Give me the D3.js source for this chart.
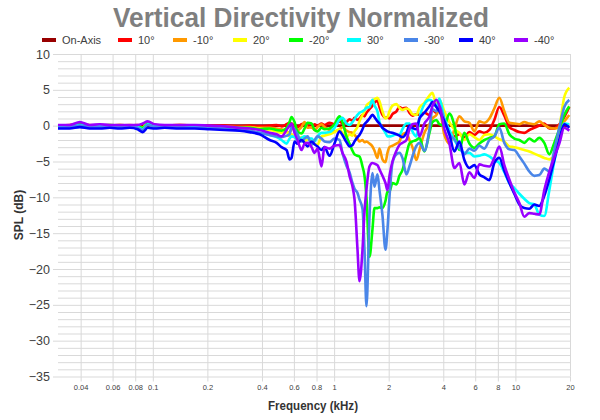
<!DOCTYPE html>
<html>
<head>
<meta charset="utf-8">
<script src="https://cdn.jsdelivr.net/npm/d3@7"></script>
<style>
  body { margin: 0; background: #fff; }
  svg { display: block; font-family: "Liberation Sans", Arial, sans-serif; }
</style>
</head>
<body>
<script>
// frequencies in kHz
const freqs = [
  0.030, 0.0348, 0.0396, 0.0449, 0.051, 0.0579, 0.0657, 0.0746,
  0.0825, 0.088, 0.0937, 0.1024, 0.1163, 0.1406, 0.1702, 0.2058, 0.2489, 0.3012,
  0.342, 0.388, 0.441, 0.482, 0.513, 0.547, 0.568, 0.582, 0.605, 0.628,
  0.661, 0.687, 0.714, 0.751, 0.780, 0.810, 0.852, 0.885, 0.943, 1.005,
  1.071, 1.112, 1.170, 1.216, 1.263, 1.296, 1.346, 1.380, 1.434, 1.471,
  1.508, 1.567, 1.627, 1.670, 1.734, 1.779, 1.848, 1.920, 1.969, 2.020,
  2.098, 2.207, 2.292, 2.381, 2.505, 2.602, 2.704, 2.844, 2.955, 3.148,
  3.356, 3.485, 3.666, 3.808, 4.058, 4.323, 4.608, 4.910, 5.230, 5.572,
  5.937, 6.326, 6.741, 7.182, 7.650, 8.153, 8.686, 9.256, 9.860, 10.51,
  11.19, 11.93, 12.71, 13.54, 14.43, 15.38, 16.38, 17.46, 18.60, 19.82
]

const onAxis = [
  0, 0, 0, 0, 0, 0, 0, 0,
  0, 0, 0, 0, 0, 0, 0, 0, 0, 0,
  0, 0, 0, 0, 0, 0, 0, 0, 0, 0,
  0, 0, 0, 0, 0, 0, 0, 0, 0, 0,
  0, 0, 0, 0, 0, 0, 0, 0, 0, 0,
  0, 0, 0, 0, 0, 0, 0, 0, 0, 0,
  0, 0, 0, 0, 0, 0, 0, 0, 0, 0,
  0, 0, 0, 0, 0, 0, 0, 0, 0, 0,
  0, 0, 0, 0, 0, 0, 0, 0, 0, 0,
  0, 0, 0, 0, 0, 0, 0, 0, 0, 0
]
const up10 = [
  0, 0.1, 0.2, 0, 0.1, 0, 0.1, 0,
  0.1, -0.2, 0.3, 0.1, 0, 0.1, 0, 0, 0, -0.1,
  0, -0.1, 0, 0.1, -0.1, 0.2, 0.4, 0.3, 0, -0.2,
  0.2, 0.3, 0, -0.2, 0.2, 0, 0.3, 0.1, 0.4, 0.2,
  0.6, 0.3, 0.5, 0.9, 0.7, 1.1, 0.8, 1.0, 1.5, 1.3,
  1.8, 2.3, 2.8, 3.2, 3.5, 2.6, 1.5, 1.1, 1.2, 1.0,
  1.6, 2.0, 2.6, 2.4, 2.5, 1.8, 1.4, 1.6, 1.5, 1.8,
  1.5, 2.2, 1.8, 2.4, 0.6, -0.8, -1.5, -1.2, -1.6, -0.9,
  -1.3, -0.8, -1.0, -0.6, 0.8, 2.6, 1.4, -0.2, -0.6, -0.9,
  -1.0, -0.6, -0.3, 0.0, 0.3, -0.4, -0.4, 0.2, 1.2, 2.6
]
const down10 = [
  0, 0, 0.2, 0.1, 0, 0.1, 0, 0.1,
  0, -0.3, 0.4, 0.1, 0, 0.1, 0, -0.1, -0.1, -0.2,
  -0.2, -0.3, -0.3, -0.4, -0.5, -0.8, -1.0, -0.5, -0.4, -0.6,
  -0.2, 0.5, -0.3, -0.2, -0.6, -0.2, 0.2, -0.2, -0.6, -0.8,
  -0.5, -0.2, -0.7, -0.9, -1.0, -1.3, -1.8, -2.2, -2.0, -2.3,
  -2.2, -2.5, -2.9, -3.5, -4.5, -3.2, -4.7, -5.1, -3.8, -3.0,
  -2.8, -2.5, -2.2, -1.2, -1.0, -2.0, -3.0, -4.8, -3.4, -1.0,
  0.2, 1.0, 1.5, 2.2, -1.3, -2.5, -0.5, 1.3, 0.6, 0.4,
  -0.8, 0.6, 0.4, 1.0, 2.4, 3.9, 2.0, 0.4, 0.3, 0.2,
  0.5, 0.3, 0.2, 0.6, 0.1, -0.3, -0.4, -0.2, 0.6, 1.5
]
const up20 = [
  0, 0, 0.2, 0, 0.1, 0, 0.1, 0,
  0, -0.3, 0.4, 0, 0, 0, -0.1, -0.1, -0.2, -0.3,
  -0.3, -0.4, -0.6, -0.8, -1.0, -0.8, -1.5, -1.2, -1.6, -2.0,
  -1.6, -2.2, -1.9, -2.2, -2.5, -2.7, -1.5, -1.4, -1.2, -0.9,
  -0.5, -1.0, -1.6, -1.2, -1.4, -0.8, -0.2, 0.6, 1.5, 2.0,
  2.8, 3.2, 3.5, 3.7, 3.9, 3.4, 2.0, 1.0, 1.2, 2.0,
  2.8, 3.0, 2.5, 2.2, 2.4, 2.2, 1.6, 1.5, 2.5, 3.2,
  4.2, 4.6, 2.9, 3.6, 2.0, 0.5, -0.5, -1.0, -2.0, -1.2,
  -1.6, -2.0, -1.3, -1.2, -1.5, -1.9, -2.2, -2.9, -3.0, -3.2,
  -3.4, -3.6, -3.9, -4.2, -4.5, -4.7, -4.2, -0.5, 4.0, 5.3
]
const down20 = [
  -0.1, 0, 0.2, 0, 0, 0.1, 0, 0,
  0, -0.3, 0.3, 0, -0.1, 0, -0.1, -0.1, -0.2, -0.3,
  -0.3, -0.5, -0.4, -0.6, -0.7, -0.3, 0.5, 1.2, 0.5, -0.8,
  -1.1, -0.4, 0.4, 0.3, -0.6, -0.8, -0.3, -0.5, -0.4, 0.2,
  1.3, 0.5, -1.5, -2.5, -3.5, -4.0, -4.2, -4.3, -5.7, -7.0,
  -10.0, -18.3, -14.5, -11.5, -11.5, -11.4, -11.5, -10.5, -9.2, -9.2,
  -8.0, -8.2, -7.0, -6.2, -4.0, -2.5, -2.2, -2.0, -1.7, -3.6,
  -1.0, 0.5, 0.8, 0.2, 0.0, 1.7, 0.0, -3.4, -1.0, -2.5,
  -3.1, -2.5, -2.0, -1.7, -1.5, 0.2, 0.3, -1.2, -1.8, -2.0,
  -2.4, -1.8, -2.2, -1.7, -2.4, -4.0, -2.4, -0.5, 1.5, 2.7
]
const up30 = [
  -0.2, -0.1, 0.1, -0.1, -0.1, 0, -0.1, -0.1,
  -0.2, -0.5, 0.2, -0.1, -0.1, -0.1, -0.2, -0.3, -0.4, -0.6,
  -0.8, -1.0, -1.3, -1.6, -2.0, -2.5, -1.8, -1.5, -1.6, -2.0,
  -1.7, -1.5, -1.7, -1.8, -2.2, -1.5, -1.0, -1.0, -0.9, -0.3,
  0.8, 1.1, 0.3, 0.1, 0.5, 0.9, 1.5, 1.8, 2.0, 2.2,
  2.5, 2.6, 3.6, 2.8, 2.0, 0.5, -0.3, -1.0, -1.5, -1.5,
  -1.4, -1.2, -1.3, -0.5, 0.3, 0.3, -0.8, -1.5, 1.0, 3.0,
  3.6, 3.4, 2.6, 3.8, 1.0, -0.6, -2.0, -3.1, -3.8, -3.8,
  -4.3, -4.2, -4.0, -4.3, -4.8, -5.2, -6.5, -8.0, -8.7, -9.5,
  -10.2, -10.8, -11.0, -12.4, -12.6, -9.0, -5.0, -2.0, 0.3, 0.2
]
const down30 = [
  -0.3, -0.2, 0, -0.2, -0.2, -0.1, -0.2, -0.2,
  -0.3, -0.6, 0.1, -0.2, -0.2, -0.2, -0.3, -0.3, -0.5, -0.6,
  -0.7, -1.0, -1.3, -1.5, -1.6, -1.4, -1.2, -0.2, -0.5, -1.2,
  -2.2, -1.8, -1.5, -2.7, -2.0, -1.5, -1.8, -2.2, -2.3, -1.8,
  -2.0, -3.8, -5.6, -6.5, -8.0, -8.8, -9.4, -10.3, -11.6, -17.3,
  -25.2, -12.7, -6.6, -8.5, -6.8, -9.0, -12.5, -17.3, -14.5, -10.0,
  -5.2, -4.0, -3.8, -4.5, -6.8, -5.7, -4.3, -2.8, -2.4, -3.5,
  -0.5, 2.3, 2.0, 2.7, 0.8, -1.2, -1.9, -3.0, -4.0, -3.2,
  -3.5, -2.8, -3.2, -2.0, -1.5, -0.3, -2.4, -3.3, -3.4, -4.3,
  -5.3, -6.4, -7.0, -6.9, -6.0, -6.4, -3.4, -0.3, 2.6, 3.6
]
const up40 = [
  -0.4, -0.4, -0.2, -0.4, -0.4, -0.3, -0.4, -0.3,
  -0.5, -0.9, -0.3, -0.4, -0.3, -0.4, -0.4, -0.5, -0.6, -0.7,
  -0.9, -1.2, -2.0, -2.4, -3.0, -3.4, -4.7, -4.5, -2.2, -2.5,
  -2.0, -2.4, -2.9, -2.2, -2.6, -2.9, -3.4, -3.0, -4.2, -2.5,
  -0.8, -1.3, -2.3, -2.9, -2.7, -2.2, -1.6, -1.3, -0.5, 0.2,
  0.5, 1.0, 1.5, 1.2, 0.6, 0.3, -0.3, -0.6, -0.8, -0.9,
  -1.0, -1.2, -1.4, -1.6, -1.0, 0.0, -0.3, -0.5, 1.0, 1.8,
  2.7, 3.3, 2.6, 2.0, 0.6, -1.2, -3.6, -2.2, -4.8, -5.9,
  -5.5, -6.8, -7.2, -7.6, -5.2, -4.5, -6.3, -8.0, -9.5, -11.0,
  -11.5, -11.6, -11.0, -11.2, -9.8, -7.5, -4.8, -2.0, 0.2, -0.3
]
const down40 = [
  0.1, 0.1, 0.5, 0.1, 0.2, 0.1, 0.1, 0.1,
  0.1, 0.3, 0.6, 0.2, 0.1, 0.1, 0.1, 0, -0.1, -0.3,
  -0.4, -0.6, -1.0, -1.2, -1.5, -0.6, 0.0, 0.3, -1.0, -2.0,
  -3.4, -2.5, -2.4, -3.0, -3.8, -3.2, -5.7, -3.0, -3.2, -2.8,
  -2.7, -3.8, -5.0, -7.0, -8.5, -10.3, -17.3, -21.7, -17.3, -12.0,
  -8.9, -5.7, -5.2, -5.3, -5.5, -6.1, -7.0, -8.0, -9.0, -7.0,
  -5.0, -3.5, -2.7, -2.4, -2.0, -0.5, 0.2, 0.3, -1.5, 0.3,
  1.3, 2.7, 3.6, 2.8, -0.5, -2.5, -5.9, -5.2, -8.2, -6.5,
  -7.3, -5.4, -5.6, -5.7, -4.5, -2.9, -5.5, -7.5, -9.3, -10.8,
  -12.7, -12.2, -12.3, -12.4, -9.0, -6.4, -4.4, -2.5, -0.3, -0.7
]

const seriesNames = ["On-Axis", "10°", "-10°", "20°", "-20°", "30°", "-30°", "40°", "-40°"]
const seriesValues = [onAxis, up10, down10, up20, down20, up30, down30, up40, down40]
const seriesColors = ["#980000", "#ff0000", "#ff9900", "#ffff00", "#00ff00", "#00ffff", "#4a86e8", "#0000ff", "#9900ff"]

const xTicks = [0.04, 0.06, 0.08, 0.1, 0.2, 0.4, 0.6, 0.8, 1, 2, 4, 6, 8, 10, 20]
const xTickLabels = ["0.04", "0.06", "0.08", "0.1", "0.2", "0.4", "0.6", "0.8", "1", "2", "4", "6", "8", "10", "20"]
const yTicks = [-35, -30, -25, -20, -15, -10, -5, 0, 5, 10]

const plotLeft = 58, plotRight = 570, plotTop = 54, plotBottom = 376.5

const svg = d3.select("body").append("svg")
  .attr("width", 600)
  .attr("height", 420)

const x = d3.scaleLog().domain([0.03, 20]).range([plotLeft, plotRight])
const y = d3.scaleLinear().domain([-35, 10]).range([plotBottom, plotTop])

// horizontal grid, every dB
svg.append("g")
  .attr("transform", `translate(${plotLeft},0)`)
  .call(d3.axisLeft(y).tickValues(d3.range(-35, 11, 1)).tickSize(-(plotRight - plotLeft)).tickFormat(""))
  .call(g => g.select(".domain").remove())
  .selectAll("line").attr("stroke", "#d9d9d9")

// vertical grid at labelled frequencies
svg.append("g")
  .attr("transform", `translate(0,${plotBottom})`)
  .call(d3.axisBottom(x).tickValues(xTicks).tickSize(-(plotBottom - plotTop)).tickFormat(""))
  .call(g => g.select(".domain").remove())
  .selectAll("line").attr("stroke", "#d9d9d9")

// y axis ticks + labels
const yAxis = svg.append("g")
  .attr("transform", `translate(${plotLeft},0)`)
  .call(d3.axisLeft(y).tickValues(yTicks).tickSize(5).tickPadding(3))
yAxis.select(".domain").remove()
yAxis.selectAll("line").attr("stroke", "#d9d9d9")
yAxis.selectAll("text")
  .style("font-size", "12.5px")
  .attr("fill", "#404040")

// x axis ticks + labels
const xAxis = svg.append("g")
  .attr("transform", `translate(0,${plotBottom})`)
  .call(d3.axisBottom(x).tickValues(xTicks).tickSize(5).tickPadding(3)
    .tickFormat((d, i) => xTickLabels[i]))
xAxis.select(".domain").remove()
xAxis.selectAll("line").attr("stroke", "#d9d9d9")
xAxis.selectAll("text")
  .style("font-size", "7.5px")
  .attr("fill", "#404040")

// curves
const line = d3.line()
  .x(d => x(d[0]))
  .y(d => y(d[1]))
  .curve(d3.curveMonotoneX)

seriesValues.forEach((vals, i) => {
  svg.append("path")
    .datum(freqs.map((f, j) => [f, vals[j]]))
    .attr("d", line)
    .attr("fill", "none")
    .attr("stroke", seriesColors[i])
    .attr("stroke-width", 2.6)
    .attr("stroke-linejoin", "round")
})

// title
svg.append("text")
  .attr("x", 301)
  .attr("y", 27)
  .attr("text-anchor", "middle")
  .attr("textLength", 376)
  .attr("lengthAdjust", "spacingAndGlyphs")
  .style("font-size", "27px")
  .style("font-weight", "bold")
  .attr("fill", "#7f7f7f")
  .text("Vertical Directivity Normalized")

// legend
const legendX = [42, 118, 173, 233, 289, 347, 404, 459, 514]
const legend = svg.selectAll(".legend")
  .data(seriesNames)
  .enter()
  .append("g")
  .attr("class", "legend")
  .attr("transform", (d, i) => `translate(${legendX[i]},${40})`)

legend.append("rect")
  .attr("y", -2)
  .attr("width", 14)
  .attr("height", 4)
  .attr("fill", (d, i) => seriesColors[i])

legend.append("text")
  .attr("x", 20)
  .attr("y", 4)
  .style("font-size", "11px")
  .attr("fill", "#404040")
  .text(d => d)

// axis titles
svg.append("text")
  .attr("transform", "translate(23,215) rotate(-90)")
  .attr("text-anchor", "middle")
  .style("font-size", "12px")
  .style("font-weight", "bold")
  .attr("fill", "#333")
  .text("SPL (dB)")

svg.append("text")
  .attr("x", 313)
  .attr("y", 410)
  .attr("text-anchor", "middle")
  .attr("textLength", 90)
  .attr("lengthAdjust", "spacingAndGlyphs")
  .style("font-size", "13px")
  .style("font-weight", "bold")
  .attr("fill", "#333")
  .text("Frequency (kHz)")
</script>
</body>
</html>
